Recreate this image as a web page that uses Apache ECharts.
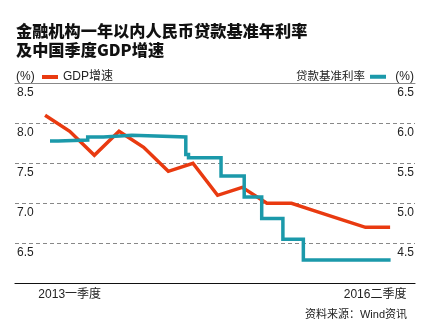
<!DOCTYPE html>
<html>
<head>
<meta charset="utf-8">
<script src="https://cdn.jsdelivr.net/npm/echarts@6/dist/echarts.min.js"></script>
<style>
  html, body { margin: 0; padding: 0; background: #fff; }
  #chart { width: 447px; height: 334px; }
</style>
</head>
<body>
<div id="chart"></div>
<script>
// Quarterly GDP growth, 2012Q4 .. 2016Q2 (x = quarter index)
const quarters = ['2012Q4', '2013Q1', '2013Q2', '2013Q3', '2013Q4', '2014Q1', '2014Q2', '2014Q3',
                  '2014Q4', '2015Q1', '2015Q2', '2015Q3', '2015Q4', '2016Q1', '2016Q2'];
const gdpGrowth = [8.1, 7.9, 7.6, 7.9, 7.7, 7.4, 7.5, 7.1, 7.2, 7.0, 7.0, 6.9, 6.8, 6.7, 6.7];

// Benchmark lending rate, as steps positioned on the same quarter scale
const rateAt     = [0.2, 0.53, 1.73, 2.37, 3.52, 5.71, 5.82, 7.14, 8.08, 8.79, 9.65, 10.48, 14.02];
const rateValues = [5.78, 5.79, 5.83, 5.85, 5.83, 5.61, 5.57, 5.34, 5.08, 4.81, 4.55, 4.29, 4.29];

// Axis captions
const tickAt = [1, 14];
const tickLabels = ['2013一季度', '2016二季度'];

const FONT = "'Liberation Sans', 'Noto Sans CJK SC', sans-serif";
const RED = '#E93A10';
const TEAL = '#1B99AA';

const chart = echarts.init(document.getElementById('chart'), null, { renderer: 'canvas' });

const xRange = { min: -1.22, max: 15.01 };
const unitStyle = { fontFamily: FONT, fontSize: 12, fontWeight: 'normal', color: '#222' };

chart.setOption({
  animation: false,
  backgroundColor: '#fff',
  textStyle: { fontFamily: FONT },
  title: [
    {
      text: '金融机构一年以内人民币贷款基准年利率\n及中国季度GDP增速',
      left: 11, top: 16,
      textStyle: {
        fontFamily: "'Noto Sans CJK SC', sans-serif",
        fontSize: 16.2, fontWeight: 900, color: '#111', lineHeight: 19
      }
    },
    { text: '(%)', left: 11, top: 66, textStyle: unitStyle },
    { text: '(%)', right: 28, top: 66, textStyle: unitStyle },
    {
      text: '资料来源：Wind资讯',
      right: 35, top: 304,
      textStyle: { fontFamily: FONT, fontSize: 11, fontWeight: 'normal', color: '#222' }
    }
  ],
  legend: [
    {
      data: ['GDP增速'],
      left: 37, top: 66,
      icon: 'rect', itemWidth: 16, itemHeight: 4,
      textStyle: { fontFamily: FONT, fontSize: 12, color: '#222' }
    },
    {
      data: ['贷款基准利率'],
      right: 56, top: 66, align: 'right',
      icon: 'rect', itemWidth: 16, itemHeight: 4,
      textStyle: { fontFamily: FONT, fontSize: 11.5, color: '#222' }
    }
  ],
  grid: { left: 15, right: 32, top: 83.3, bottom: 50.7, containLabel: false },
  xAxis: [
    {
      type: 'value', position: 'bottom', min: xRange.min, max: xRange.max,
      axisLine: { show: true, onZero: false, lineStyle: { color: '#111', width: 1.2 } },
      axisTick: { show: false },
      splitLine: { show: false },
      axisLabel: {
        customValues: tickAt,
        margin: 5,
        fontSize: 12, color: '#222', fontFamily: FONT,
        formatter: v => {
          const i = tickAt.indexOf(v);
          if (i < 0) return '';
          return i === tickAt.length - 1 ? '{r|' + tickLabels[i] + '}' : tickLabels[i];
        },
        rich: { r: { fontSize: 12, color: '#222', fontFamily: FONT, padding: [0, 30, 0, 0] } }
      }
    },
    {
      type: 'value', position: 'top', min: xRange.min, max: xRange.max,
      axisLine: { show: true, onZero: false, lineStyle: { color: '#888', width: 1 } },
      axisTick: { show: false }, axisLabel: { show: false }, splitLine: { show: false }
    }
  ],
  yAxis: [
    {
      type: 'value', position: 'left', min: 6, max: 8.5, interval: 0.5,
      axisLine: { show: false }, axisTick: { show: false },
      splitLine: { show: true, lineStyle: { color: '#888', type: [4, 3], width: 1 } },
      axisLabel: {
        inside: true, margin: 2, verticalAlign: 'top', padding: [3, 0, 0, 0],
        fontSize: 12, color: '#222', fontFamily: FONT,
        formatter: v => (v <= 6 ? '' : v.toFixed(1))
      }
    },
    {
      type: 'value', position: 'right', min: 4, max: 6.5, interval: 0.5,
      axisLine: { show: false }, axisTick: { show: false }, splitLine: { show: false },
      axisLabel: {
        inside: true, margin: 1, verticalAlign: 'top', padding: [3, 0, 0, 0],
        fontSize: 12, color: '#222', fontFamily: FONT,
        formatter: v => (v <= 4 ? '' : v.toFixed(1))
      }
    }
  ],
  series: [
    {
      name: 'GDP增速', type: 'line', xAxisIndex: 0, yAxisIndex: 0,
      data: gdpGrowth.map((v, i) => [i, v]),
      showSymbol: false, symbol: 'none',
      color: RED,
      lineStyle: { color: RED, width: 3.5, join: 'miter' }
    },
    {
      name: '贷款基准利率', type: 'line', xAxisIndex: 0, yAxisIndex: 1,
      data: rateAt.map((x, i) => [x, rateValues[i]]),
      step: 'end', showSymbol: false, symbol: 'none',
      color: TEAL,
      lineStyle: { color: TEAL, width: 3.5, join: 'miter' }
    }
  ]
});
</script>
</body>
</html>
